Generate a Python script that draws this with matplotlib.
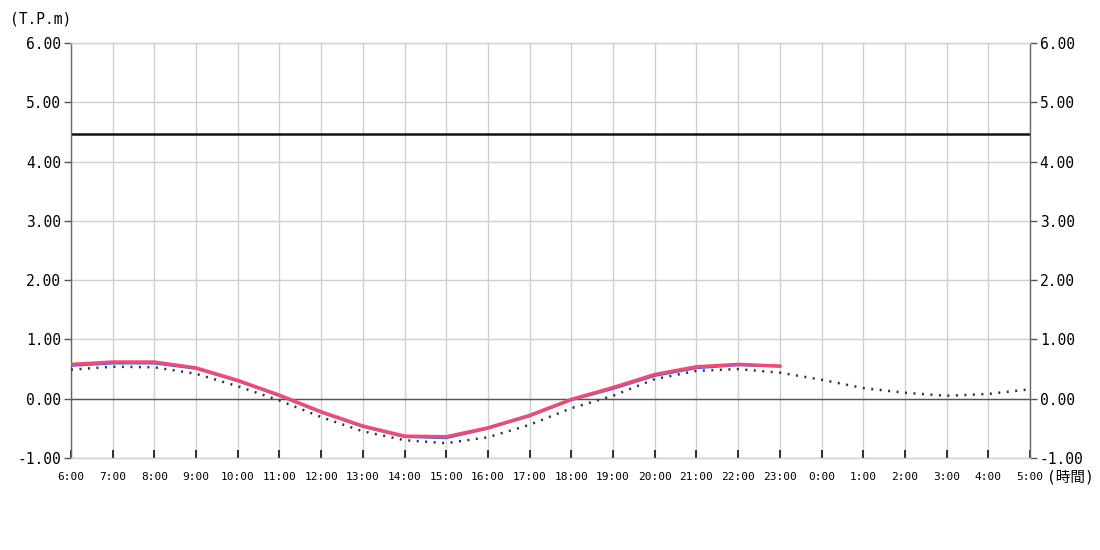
import matplotlib
matplotlib.use("Agg")
import matplotlib.pyplot as plt
import numpy as np

hours = ["6:00", "7:00", "8:00", "9:00", "10:00", "11:00", "12:00", "13:00", "14:00",
         "15:00", "16:00", "17:00", "18:00", "19:00", "20:00", "21:00", "22:00", "23:00",
         "0:00", "1:00", "2:00", "3:00", "4:00", "5:00"]

# observed (red), 6:00-23:00
observed = [0.58, 0.62, 0.62, 0.52, 0.31, 0.06, -0.22, -0.46, -0.63, -0.64,
            -0.49, -0.28, -0.01, 0.19, 0.41, 0.54, 0.58, 0.55]
# corrected / forecast (blue), 6:00-23:00
corrected = [0.56, 0.60, 0.60, 0.51, 0.30, 0.05, -0.23, -0.47, -0.64, -0.66,
             -0.50, -0.29, -0.02, 0.17, 0.39, 0.52, 0.57, 0.55]
# astronomical tide (dotted), 6:00-5:00
astronomical = [0.49, 0.54, 0.53, 0.42, 0.21, -0.03, -0.31, -0.55, -0.70, -0.75,
                -0.65, -0.44, -0.16, 0.05, 0.33, 0.47, 0.50, 0.44,
                0.32, 0.18, 0.10, 0.05, 0.08, 0.16]
warning_level = 4.47
y_ticks = [-1, 0, 1, 2, 3, 4, 5, 6]

plt.rcParams['font.family'] = ['DejaVu Sans Mono', 'Noto Sans CJK JP']

fig = plt.figure(figsize=(11, 5.5), dpi=100)
ax = fig.add_axes([71/1100, 1-458/550, 959/1100, 415/550])

x_all = np.arange(len(hours))
x_obs = np.arange(len(observed))

ax.set_xlim(0, len(hours)-1)
ax.set_ylim(-1, 6)

for xi in x_all:
    ax.axvline(xi, color='#d0d0d0', lw=1, zorder=0)
for yv in y_ticks:
    ax.axhline(yv, color='#d0d0d0', lw=1, zorder=0)
ax.axhline(0, color='#555555', lw=1, zorder=1)
ax.axhline(warning_level, color='#111111', lw=1.8, zorder=2)

ax.plot(x_all, astronomical, color='#333333', lw=1.8, linestyle=(0, (0.8, 2.6)), zorder=3)
ax.plot(x_obs, corrected, color='#3a6cf4', lw=2, zorder=4)
ax.plot(x_obs, observed, color='#f24a72', lw=2.4, zorder=5)

ax.set_yticks(y_ticks)
ax.set_yticklabels([f"{v:.2f}" for v in y_ticks], fontsize=10.5)
ax.set_xticks(x_all)
ax.set_xticklabels(hours, fontsize=8)

ax.tick_params(axis='y', direction='out', length=5, width=1, color='#555555', pad=2,
               labelleft=True, labelright=True, left=True, right=True)
ax.tick_params(axis='x', direction='in', length=6, width=1.2, color='#111111', pad=10)

for s in ['left', 'right']:
    ax.spines[s].set_color('#666666')
    ax.spines[s].set_linewidth(1)
for s in ['top', 'bottom']:
    ax.spines[s].set_color('#d0d0d0')
    ax.spines[s].set_linewidth(1)

fig.text(10/1100, 1-19/550, "(T.P.m)", fontsize=10.5, va='center', ha='left')
fig.text(1047/1100, 1-477/550, "(時間)", fontsize=10.5, va='center', ha='left',
         family=['DejaVu Sans Mono', 'Noto Sans CJK JP'])

fig.savefig("out.png", dpi=100, facecolor='white')
